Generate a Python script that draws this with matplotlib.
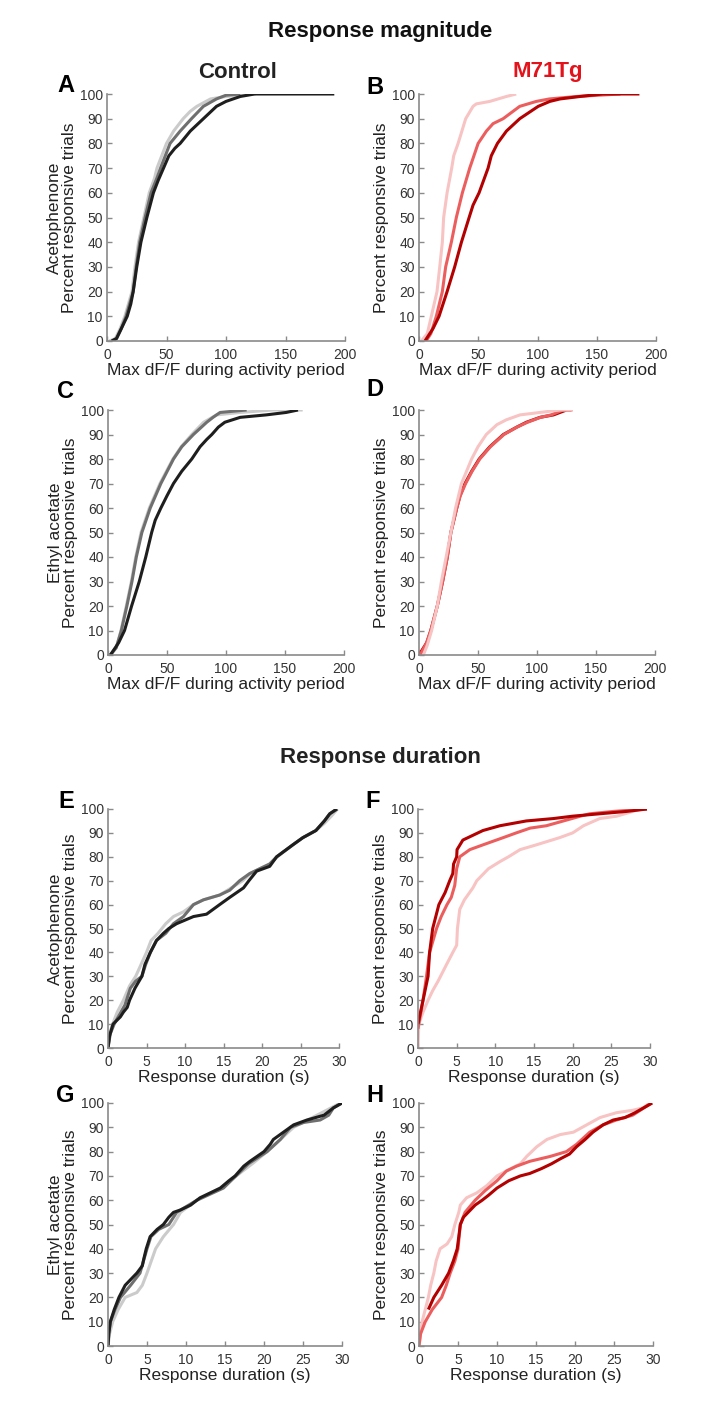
import matplotlib
matplotlib.use("Agg")
import matplotlib.pyplot as plt

plt.rcParams['font.family'] = ['Liberation Sans', 'DejaVu Sans']

# ---------------- data (cumulative percent of responsive trials) ----------------
# Panel A: Control, Acetophenone, magnitude
A_light_x = [2, 7, 11, 15, 18, 21, 23.5, 26.5, 31, 35.5, 40, 42, 46, 50, 56, 64, 70, 75.5, 87, 100, 125]
A_light_y = [0, 1, 5, 10, 15, 20, 30, 40, 50, 60, 66, 70, 75, 80, 85, 90, 93, 95, 98, 99, 100]
A_mid_x = [4, 8, 12, 16, 19, 22, 24.5, 27.5, 32, 37, 42, 45, 49, 53, 61.5, 71, 81, 92, 100, 112]
A_mid_y = [0, 1, 5, 10, 15, 20, 30, 40, 50, 60, 66, 70, 75, 80, 85, 90, 95, 98, 99.5, 100]
A_dark_x = [4, 8, 12, 17, 20, 22, 25, 28.5, 33.5, 39, 43, 47.5, 52, 57, 61.5, 70, 81, 92, 100, 112, 124, 150, 191]
A_dark_y = [0, 1, 5, 10, 15, 20, 30, 40, 50, 60, 65, 70, 75, 78, 80, 85, 90, 95, 97, 99, 100, 100, 100]

# Panel B: M71Tg, Acetophenone, magnitude
B_light_x = [2, 7, 10.4, 15.2, 17.5, 19.7, 20.8, 23.7, 27.6, 29.3, 33, 39.4, 45.6, 48.4, 59.7, 73.8, 82]
B_light_y = [0, 3, 10, 20, 30, 40, 50, 60, 70, 75, 80, 90, 95, 96, 97, 99, 100]
B_mid_x = [6, 10, 14.6, 19.7, 22.5, 27.3, 31.5, 36.6, 42.8, 49.9, 56.9, 62.5, 71, 85, 99, 110, 133, 170]
B_mid_y = [0, 3, 10, 20, 30, 40, 50, 60, 70, 80, 85, 88, 90, 95, 97, 98, 99, 100]
B_dark_x = [5, 11.8, 16.9, 23.7, 30.1, 35.8, 42.3, 45.6, 50.7, 58.3, 61, 66.2, 73.8, 85, 100.6, 110.4, 119, 136, 155, 186]
B_dark_y = [0, 5, 10, 20, 30, 40, 50, 55, 60, 70, 75, 80, 85, 90, 95, 97, 98, 99, 100, 100]

# Panel C: Control, Ethyl acetate, magnitude
C_light_x = [2, 7, 11, 15.5, 19.8, 23.5, 28, 35, 44, 55, 62, 71, 81, 92, 112, 140, 165]
C_light_y = [0, 3, 10, 20, 30, 40, 50, 60, 70, 80, 85, 90, 95, 98, 99, 100, 100]
C_mid_x = [2, 7, 11.3, 16, 20.3, 24, 28.7, 35.8, 44.8, 55.5, 62.5, 72.4, 83.7, 89, 95, 117.5]
C_mid_y = [0, 3, 10, 20, 30, 40, 50, 60, 70, 80, 85, 90, 95, 97, 99, 100]
C_dark_x = [2, 9, 14, 20, 26.5, 32, 37, 40, 44.8, 50, 55.5, 62.5, 71, 78, 83.7, 88, 93.5, 99, 112, 134, 151, 161]
C_dark_y = [0, 5, 10, 20, 30, 40, 50, 55, 60, 65, 70, 75, 80, 85, 88, 90, 93, 95, 97, 98, 99, 100]

# Panel D: M71Tg, Ethyl acetate, magnitude
D_light_x = [3.7, 7, 10.7, 15.5, 19, 23, 27, 31, 36, 44.6, 50, 57, 66, 74, 85.6, 102.5, 119.5, 130]
D_light_y = [0, 4, 10, 20, 30, 40, 50, 60, 70, 80, 85, 90, 94, 96, 98, 99, 100, 100]
D_mid_x = [1, 6.5, 10, 15.5, 20, 24, 27, 32, 35, 39.5, 45, 51.5, 60.5, 72, 83, 92, 103, 112, 122, 130]
D_mid_y = [0, 5, 10, 20, 30, 40, 50, 60, 65, 70, 75, 80, 85, 90, 93, 95, 97, 98, 100, 100]
D_dark_x = [0, 6.5, 10, 15.5, 20, 24, 27, 32, 34.7, 39, 44.6, 51, 60, 71.5, 82.8, 91, 102.5, 114, 125, 129]
D_dark_y = [0, 5, 10, 20, 30, 40, 50, 60, 65, 70, 75, 80, 85, 90, 93, 95, 97, 98, 100, 100]

# Panel E: Control, Acetophenone, duration
E_light_x = [0, 0.2, 0.6, 1.2, 2.0, 2.8, 3.6, 4.3, 5.0, 5.6, 6.5, 7.5, 8.5, 9.8, 11.1, 12.4, 14.5, 16, 17.5, 18.5, 19.7, 21, 22, 24, 25.3, 27, 28.1, 29, 29.8]
E_light_y = [0, 6, 10, 15, 20, 26, 30, 35, 40, 45, 48, 52, 55, 57, 60, 62, 64, 67, 70, 73, 75, 77, 80, 85, 88, 91, 94, 97, 100]
E_mid_x = [0, 0.3, 0.8, 1.5, 2.2, 2.9, 3.6, 4.4, 4.9, 5.5, 6.3, 7.5, 8.5, 9.8, 11.1, 12.4, 14.5, 15.8, 17.1, 18.4, 19.7, 21, 21.9, 24, 25.3, 27, 28.1, 28.8, 29.8]
E_mid_y = [0, 6, 10, 14, 18, 25, 28, 30, 35, 40, 45, 48, 52, 55, 60, 62, 64, 66, 70, 73, 75, 77, 80, 85, 88, 91, 95, 98, 100]
E_dark_x = [0, 0.2, 0.65, 1.6, 2, 2.5, 2.8, 3.5, 4.4, 4.8, 5.5, 6.3, 7.2, 7.9, 8.9, 11.1, 12.8, 14.5, 15.8, 17.6, 18.3, 19.3, 21, 21.9, 24, 25.3, 27, 28.1, 28.8, 29.7]
E_dark_y = [0, 5, 10, 13, 15, 17, 20, 25, 30, 35, 40, 45, 48, 50, 52, 55, 56, 60, 63, 67, 70, 74, 76, 80, 85, 88, 91, 95, 98, 100]

# Panel F: M71Tg, Acetophenone, duration
F_light_x = [0, 0.1, 0.65, 1.3, 1.9, 2.6, 3.7, 4.5, 5.0, 5.1, 5.4, 6.0, 7.1, 7.6, 9.1, 10.6, 11.7, 13.2, 15.3, 18.3, 20, 21.4, 23.5, 25.7, 27.8, 28.7]
F_light_y = [0, 10, 15, 20, 24, 28, 35, 40, 43, 50, 58, 62, 67, 70, 75, 78, 80, 83, 85, 88, 90, 93, 96, 97, 99, 100]
F_mid_x = [0, 0.65, 1.1, 1.5, 2.4, 3.0, 3.75, 4.3, 4.75, 5.0, 5.4, 6.7, 8.4, 11, 12.7, 14.5, 16.6, 18.8, 21, 22.2, 25.3, 29.6]
F_mid_y = [8, 20, 30, 40, 50, 55, 60, 63, 68, 75, 80, 83, 85, 88, 90, 92, 93, 95, 97, 98, 99, 100]
F_dark_x = [0, 0.65, 1.3, 1.5, 1.9, 2.7, 3.5, 4.1, 4.5, 4.6, 5.0, 5.05, 5.8, 7.1, 8.4, 10.6, 14, 17.5, 20, 23.5, 27, 29.6]
F_dark_y = [10, 20, 30, 40, 50, 60, 65, 70, 73, 77, 80, 83, 87, 89, 91, 93, 95, 96, 97, 98, 99, 100]

# Panel G: Control, Ethyl acetate, duration
G_light_x = [0, 0.2, 0.6, 1.3, 2.2, 3.7, 4.4, 5.0, 6.1, 7.1, 8.4, 9.3, 11.4, 14.4, 18.5, 20.4, 23.8, 26.8, 29.8]
G_light_y = [0, 5, 10, 15, 20, 22, 25, 30, 40, 45, 50, 55, 60, 65, 75, 80, 90, 95, 100]
G_mid_x = [0, 0.1, 0.3, 0.9, 1.6, 2.9, 4.1, 5.0, 5.5, 6.5, 7.8, 8.8, 11.4, 14.8, 18, 20.4, 22.1, 23.4, 25.1, 27.2, 28.3, 28.9, 30]
G_mid_y = [0, 5, 10, 15, 20, 25, 30, 40, 45, 48, 50, 55, 60, 65, 75, 80, 85, 90, 92, 93, 95, 98, 100]
G_dark_x = [0, 0.1, 0.3, 0.8, 1.4, 2.2, 3.1, 3.7, 4.4, 4.6, 4.9, 5.4, 6.3, 7.1, 7.8, 8.4, 9.3, 10.6, 11.8, 13.1, 14.4, 15.5, 16.3, 17.4, 18.2, 19.1, 20, 20.8, 21.2, 22.5, 23.8, 25.5, 27.7, 28.9, 30]
G_dark_y = [0, 5, 10, 15, 20, 25, 28, 30, 33, 36, 40, 45, 48, 50, 53, 55, 56, 58, 61, 63, 65, 68, 70, 74, 76, 78, 80, 83, 85, 88, 91, 93, 95, 98, 100]

# Panel H: M71Tg, Ethyl acetate, duration
H_light_x = [0, 0.4, 0.8, 1.2, 1.5, 1.9, 2.2, 2.7, 3.6, 4.2, 4.6, 5.1, 5.3, 6.1, 7.4, 8.7, 10, 11.2, 13, 13.8, 15.1, 16.4, 18.1, 19.8, 21.5, 23.2, 25.3, 27.4, 28.7, 29.6]
H_light_y = [0, 10, 15, 20, 25, 30, 35, 40, 42, 45, 50, 55, 58, 61, 63, 66, 70, 72, 75, 78, 82, 85, 87, 88, 91, 94, 96, 97, 98, 100]
H_mid_x = [0, 0.2, 0.8, 1.7, 2.9, 3.5, 4.0, 4.6, 5.0, 5.3, 5.9, 7.2, 8.5, 10, 11.2, 12.5, 14.2, 16.8, 18.9, 20.2, 21.9, 23.6, 25.3, 27.4, 29.8]
H_mid_y = [0, 5, 10, 15, 20, 25, 30, 35, 40, 50, 55, 60, 64, 68, 72, 74, 76, 78, 80, 83, 88, 91, 93, 95, 100]
H_dark_x = [1.2, 1.9, 2.9, 3.8, 4.4, 4.9, 5.3, 5.7, 6.6, 7.2, 8.1, 8.9, 10, 11.5, 13, 14.2, 15.7, 17, 18.1, 19.3, 20.2, 21.3, 22.3, 23.6, 24.9, 26.4, 27.7, 29.9]
H_dark_y = [15, 20, 25, 30, 35, 40, 50, 53, 56, 58, 60, 62, 65, 68, 70, 71, 73, 75, 77, 79, 82, 85, 88, 91, 93, 94, 96, 100]

mag_ticks = [0, 50, 100, 150, 200]
dur_ticks = [0, 5, 10, 15, 20, 25, 30]
y_ticks = [0, 10, 20, 30, 40, 50, 60, 70, 80, 90, 100]

grey_colors = ['#cbcbcb', '#6f6f6f', '#1e1e1e']
red_colors = ['#f8c3c3', '#ec5e5e', '#b30000']

# ---------------- figure ----------------
W, H = 713, 1401
fig = plt.figure(figsize=(W / 100, H / 100), dpi=100)


def add_axes(left, right, top, bottom):
    return fig.add_axes([left / W, 1 - bottom / H, (right - left) / W, (bottom - top) / H])


def style(ax, xmax, xticks, xlabel, ylabel):
    ax.set_xlim(0, xmax)
    ax.set_ylim(0, 100)
    ax.set_xticks(xticks)
    ax.set_yticks(y_ticks)
    for s in ['top', 'right']:
        ax.spines[s].set_visible(False)
    for s in ['left', 'bottom']:
        ax.spines[s].set_color('#8a8a8a')
        ax.spines[s].set_linewidth(1.2)
    ax.tick_params(direction='in', length=3.5, width=1, color='#8a8a8a',
                   labelsize=10, labelcolor='#333333')
    ax.tick_params(axis='x', pad=5)
    ax.tick_params(axis='y', pad=3)
    ax.set_xlabel(xlabel, fontsize=12.5, color='#222222', labelpad=1)
    ax.set_ylabel(ylabel, fontsize=12.5, color='#222222', labelpad=2, linespacing=1.0)


def draw(ax, series, colors):
    for (x, y), c in zip(series, colors):
        ax.plot(x, y, color=c, lw=2.2, solid_capstyle='butt')


mag_label = 'Max dF/F during activity period'
dur_label = 'Response duration (s)'
y_ace = 'Acetophenone\nPercent responsive trials'
y_eth = 'Ethyl acetate\nPercent responsive trials'
y_plain = 'Percent responsive trials'

axA = add_axes(107, 345, 94, 341)
draw(axA, [(A_light_x, A_light_y), (A_mid_x, A_mid_y), (A_dark_x, A_dark_y)], grey_colors)
style(axA, 200, mag_ticks, mag_label, y_ace)

axB = add_axes(419, 656, 94, 341)
draw(axB, [(B_light_x, B_light_y), (B_mid_x, B_mid_y), (B_dark_x, B_dark_y)], red_colors)
style(axB, 200, mag_ticks, mag_label, y_plain)

axC = add_axes(108, 344, 410, 655)
draw(axC, [(C_light_x, C_light_y), (C_mid_x, C_mid_y), (C_dark_x, C_dark_y)], grey_colors)
style(axC, 200, mag_ticks, mag_label, y_eth)

axD = add_axes(419, 655, 410, 655)
draw(axD, [(D_dark_x, D_dark_y), (D_mid_x, D_mid_y), (D_light_x, D_light_y)], red_colors[::-1])
style(axD, 200, mag_ticks, mag_label, y_plain)

axE = add_axes(108, 339, 809, 1048)
draw(axE, [(E_light_x, E_light_y), (E_mid_x, E_mid_y), (E_dark_x, E_dark_y)], grey_colors)
style(axE, 30, dur_ticks, dur_label, y_ace)

axF = add_axes(418, 650, 809, 1048)
draw(axF, [(F_light_x, F_light_y), (F_mid_x, F_mid_y), (F_dark_x, F_dark_y)], red_colors)
style(axF, 30, dur_ticks, dur_label, y_plain)

axG = add_axes(108, 342, 1103, 1346)
draw(axG, [(G_light_x, G_light_y), (G_mid_x, G_mid_y), (G_dark_x, G_dark_y)], grey_colors)
style(axG, 30, dur_ticks, dur_label, y_eth)

axH = add_axes(419, 653, 1103, 1346)
draw(axH, [(H_light_x, H_light_y), (H_mid_x, H_mid_y), (H_dark_x, H_dark_y)], red_colors)
style(axH, 30, dur_ticks, dur_label, y_plain)


def ftext(x, y, s, **kw):
    fig.text(x / W, 1 - y / H, s, ha='center', va='center', **kw)


ftext(380, 31, 'Response magnitude', fontsize=16, fontweight='bold', color='#111111')
ftext(380, 757, 'Response duration', fontsize=16, fontweight='bold', color='#222222')
ftext(238, 72, 'Control', fontsize=16, fontweight='bold', color='#222222')
ftext(548, 72, 'M71Tg', fontsize=16, fontweight='bold', color='#e3121b')

for letter, (x, y) in zip('ABCDEFGH', [(66, 86), (375, 87), (65, 392), (375, 390),
                                       (66, 802), (373, 802), (65, 1095), (375, 1095)]):
    ftext(x, y, letter, fontsize=17, fontweight='bold', color='black')

fig.savefig('out.png', dpi=100)
